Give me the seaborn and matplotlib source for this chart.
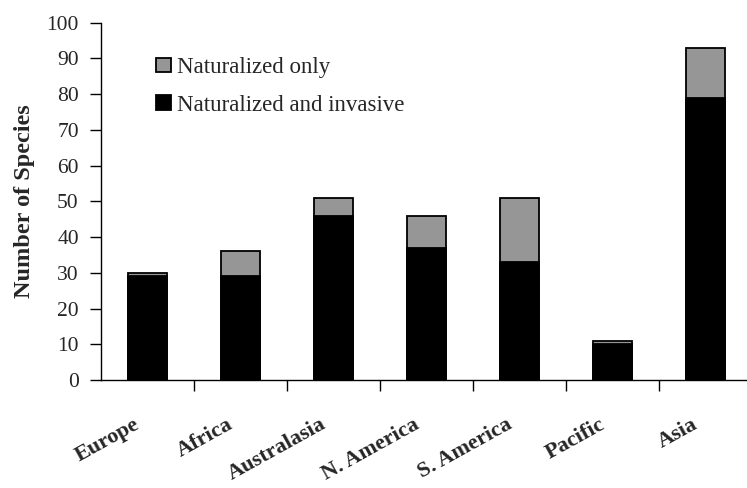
import matplotlib
matplotlib.use("Agg")
import matplotlib.pyplot as plt
import matplotlib.transforms as mtransforms
from matplotlib.patches import Patch
import seaborn as sns
import pandas as pd
import numpy as np

regions = ["Europe", "Africa", "Australasia", "N. America", "S. America", "Pacific", "Asia"]
naturalized_invasive = [29, 29, 46, 37, 33, 10, 79]
naturalized_only = [1, 7, 5, 9, 18, 1, 14]

totals = [a + b for a, b in zip(naturalized_invasive, naturalized_only)]
df = pd.DataFrame({"region": regions, "total": totals, "invasive": naturalized_invasive})

sns.set_style("white")
plt.rcParams["font.family"] = ["Liberation Serif", "DejaVu Serif"]

fig = plt.figure(figsize=(7.47, 4.88), dpi=100)
ax = fig.add_axes([101 / 747, 108 / 488, 651 / 747, 357.3 / 488])

gray = "#969696"
sns.barplot(data=df, x="region", y="total", color=gray, width=0.41,
            edgecolor="black", linewidth=1.3, saturation=1, ax=ax)
sns.barplot(data=df, x="region", y="invasive", color="black", width=0.41,
            edgecolor="black", linewidth=1.3, saturation=1, ax=ax)

ax.set_xlim(-0.5, len(regions) - 0.5)
ax.set_ylim(0, 100)
ax.set_yticks(np.arange(0, 101, 10))
ax.tick_params(axis="y", labelsize=15.5, length=8, width=1, direction="out",
               left=True, color="black", pad=8)
ax.set_ylabel("Number of Species", fontsize=17.5, fontweight="bold", labelpad=8)
ax.set_xlabel("")

# category labels at bar centres, boundary ticks as minor ticks
ax.set_xticks(range(len(regions)))
ax.set_xticklabels(regions, fontsize=16, fontweight="bold", rotation=29,
                   ha="right", va="center", rotation_mode="anchor")
ax.tick_params(axis="x", which="major", length=0, pad=31)
ax.set_xticks(np.arange(0.5, len(regions) - 0.5 + 1, 1), minor=True)
ax.tick_params(axis="x", which="minor", length=8, width=1, bottom=True, color="black")
shift = mtransforms.ScaledTranslation(-9 / 100, 0, fig.dpi_scale_trans)
for lbl in ax.get_xticklabels():
    lbl.set_transform(lbl.get_transform() + shift)

for s in ["top", "right"]:
    ax.spines[s].set_visible(False)
for s in ["left", "bottom"]:
    ax.spines[s].set_color("black")
    ax.spines[s].set_linewidth(1)

handles = [Patch(facecolor=gray, edgecolor="black", linewidth=1.3, label="Naturalized only"),
           Patch(facecolor="black", edgecolor="black", linewidth=1.3, label="Naturalized and invasive")]
ax.legend(handles=handles, loc="upper left", bbox_to_anchor=(0.084, 0.904), frameon=False,
          fontsize=16.5, handlelength=0.65, handleheight=0.6, handletextpad=0.3,
          labelspacing=0.72, borderaxespad=0, borderpad=0)

fig.savefig("out.png", dpi=100)
